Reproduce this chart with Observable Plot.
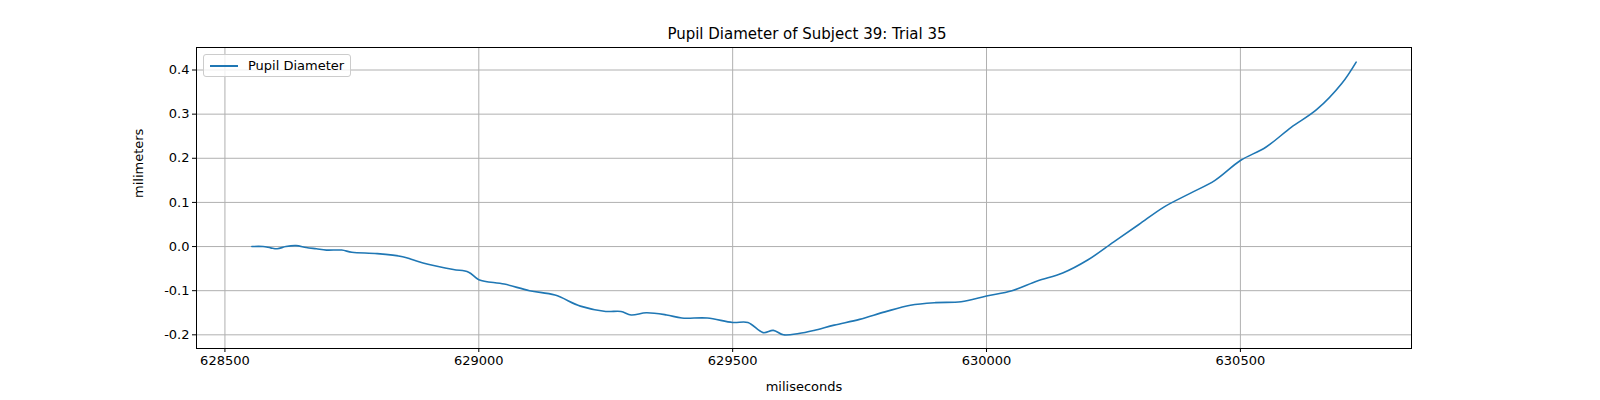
<!DOCTYPE html>
<html>
<head>
<meta charset="utf-8">
<script src="https://cdn.jsdelivr.net/npm/d3@7"></script>
<script src="https://cdn.jsdelivr.net/npm/@observablehq/plot@0.6"></script>
<style>
  html, body { margin: 0; background: #fff; font-family: "DejaVu Sans", sans-serif; overflow: hidden; }
  #wrap { position: relative; width: 1600px; height: 400px; overflow: hidden; }
  #title { position: absolute; top: 24px; width: 1600px; line-height: 20px; height: 20px; text-align: center; font-size: 15px; padding-left: 7px; }
  #chart { position: absolute; top: 25px; left: 0; }
  #chart svg { max-width: none !important; }
  #legend { position: absolute; left: 203px; top: 54px; border: 1px solid #ccc; border-radius: 3px; padding: 3px 6px; font-size: 13px; background: rgba(255,255,255,0.8); display: flex; align-items: center; }
  #legend span.sw { display: inline-block; width: 28px; height: 2px; background: #1f77b4; margin-right: 10px; }
</style>
</head>
<body>
<div id="wrap">
  <div id="title">Pupil Diameter of Subject 39: Trial 35</div>
  <div id="chart"></div>
  <div id="legend"><span class="sw"></span>Pupil Diameter</div>
</div>
<script>
const times = [628553,628575,628590,628603,628620,628640,628660,628680,628700,628730,628750,628800,628850,628870,628900,628950,628980,629000,629050,629100,629150,629200,629250,629280,629300,629330,629370,629400,629450,629500,629530,629560,629580,629600,629630,629660,629700,629750,629800,629850,629900,629950,630000,630050,630100,630150,630200,630250,630300,630350,630400,630450,630500,630550,630600,630650,630700,630728];
const diam = [0.000,0.000,-0.003,-0.005,0.000,0.002,-0.002,-0.005,-0.008,-0.008,-0.013,-0.016,-0.023,-0.030,-0.040,-0.052,-0.058,-0.075,-0.085,-0.100,-0.110,-0.135,-0.147,-0.147,-0.155,-0.150,-0.155,-0.162,-0.162,-0.172,-0.172,-0.195,-0.190,-0.200,-0.197,-0.190,-0.178,-0.165,-0.148,-0.133,-0.127,-0.125,-0.112,-0.100,-0.078,-0.060,-0.030,0.010,0.050,0.090,0.120,0.150,0.195,0.225,0.270,0.310,0.370,0.418];
const xTicks = [628500,629000,629500,630000,630500];
const yTicks = [-0.2,-0.1,0.0,0.1,0.2,0.3,0.4];

const data = times.map((t, i) => ({t, v: diam[i]}));

const chart = Plot.plot({
  width: 1600,
  height: 375,
  marginLeft: 196,
  marginRight: 189,
  marginTop: 22,
  marginBottom: 52,
  style: {fontFamily: "DejaVu Sans, sans-serif", fontSize: "13px", color: "#000", maxWidth: "none"},
  x: {domain: [628444, 630837], label: null},
  y: {domain: [-0.231, 0.451], label: null},
  marks: [
    Plot.gridX(xTicks, {stroke: "#b0b0b0", strokeOpacity: 1}),
    Plot.gridY(yTicks, {stroke: "#b0b0b0", strokeOpacity: 1}),
    Plot.axisX(xTicks, {tickSize: 4, tickPadding: 3, tickFormat: d => String(d), label: null, fontSize: 13}),
    Plot.axisY(yTicks, {tickSize: 4, tickPadding: 3, tickFormat: d => d.toFixed(1), label: null, fontSize: 13}),
    Plot.line(data, {x: "t", y: "v", stroke: "#1f77b4", strokeWidth: 1.6, curve: "catmull-rom"}),
    Plot.frame({stroke: "#000"}),
    Plot.text(["miliseconds"], {frameAnchor: "bottom", dy: 42, fontSize: 13}),
    Plot.text(["milimeters"], {frameAnchor: "left", dx: -58, rotate: -90, fontSize: 13})
  ]
});
document.getElementById("chart").append(chart);
</script>
</body>
</html>
